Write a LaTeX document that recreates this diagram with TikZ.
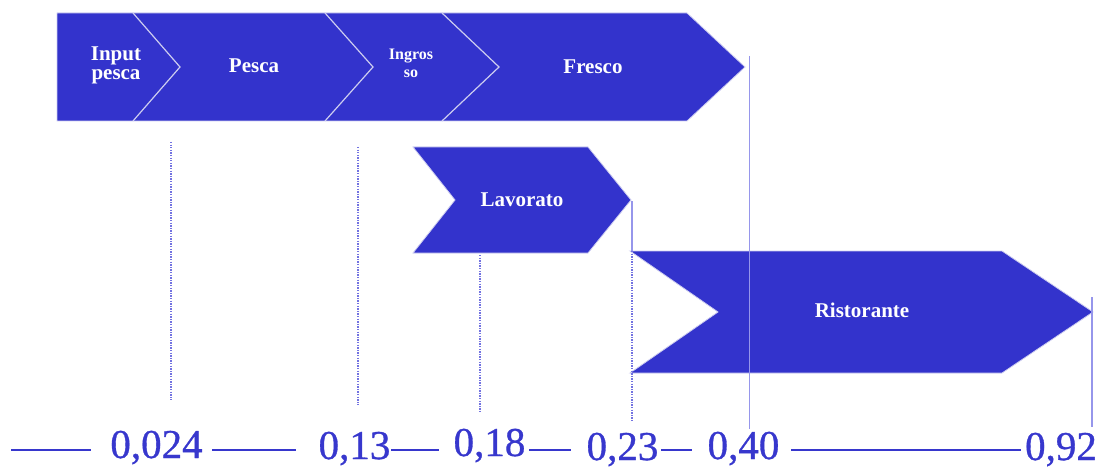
\documentclass[tikz,border=0pt]{standalone}
\usepackage{fontspec}
\setmainfont{Liberation Serif}
\newfontfamily\numfont[FakeBold=0.8]{Liberation Serif}
\definecolor{boxblue}{RGB}{51,51,204}
\definecolor{sepline}{RGB}{205,205,240}
\definecolor{numblue}{RGB}{55,55,205}
\definecolor{vline}{RGB}{150,150,235}
\definecolor{dotline}{RGB}{115,115,225}
\tikzset{
  chev/.style={fill=boxblue, draw=sepline, line width=0.8pt},
  sep/.style={draw=sepline, line width=1.2pt},
  lbl/.style={text=white, font=\bfseries\fontsize{21}{22}\selectfont, align=center, inner sep=0pt},
  slbl/.style={text=white, font=\bfseries\fontsize{16}{18}\selectfont, align=center, inner sep=0pt},
  num/.style={text=numblue, font=\numfont\fontsize{41}{41}\selectfont, anchor=base, inner sep=0pt},
  hline/.style={draw=numblue, line width=2pt},
  solidv/.style={draw=vline, line width=1.3pt},
  dotv/.style={draw=dotline, line width=1.3pt, dash pattern=on 1.3pt off 1.3pt},
}
\begin{document}
\begin{tikzpicture}[x=1pt,y=-1pt]
\useasboundingbox (0,0) rectangle (1108,468);
% top row
\path[chev] (57,13) -- (687,13) -- (745,67) -- (687,121) -- (57,121) -- cycle;
\draw[sep] (133,13) -- (180,67) -- (133,121);
\draw[sep] (325,13) -- (373,67) -- (325,121);
\draw[sep] (442,13) -- (499,67) -- (442,121);
% Lavorato
\path[chev] (413,147) -- (588,147) -- (631,200) -- (588,253) -- (413,253) -- (455,200) -- cycle;
% Ristorante
\path[chev] (630,251) -- (1002,251) -- (1093,312) -- (1002,373) -- (630,373) -- (718,312) -- cycle;
% labels
\node[lbl] (inp) at (116,65) {Input\\[-3pt]pesca};
\node[lbl] (pes) at (254,66) {Pesca};
\node[slbl] (ing) at (411,63) {Ingros\\so};
\node[lbl] (fre) at (593,67) {Fresco};
\node[lbl] (lav) at (522,200) {Lavorato};
\node[lbl] (ris) at (862,310) {Ristorante};
% vertical lines
\draw[dotv] (171,142) -- (171,400);
\draw[dotv] (358,147) -- (358,405);
\draw[dotv] (480,255) -- (480,412);
\draw[solidv] (632,201) -- (632,251);
\draw[dotv] (632,251) -- (632,421);
\draw[solidv] (749.5,56) -- (749.5,429);
\draw[solidv] (1092,297) -- (1092,427);
% numbers
\node[num] (n1) at (156.5,458) {0,024};
\node[num] (n2) at (354.5,459) {0,13};
\node[num] (n3) at (489.5,456) {0,18};
\node[num] (n4) at (622.5,460) {0,23};
\node[num] (n5) at (743.5,459) {0,40};
\node[num] (n6) at (1061,460) {0,92};
% horizontal segments
\draw[hline] (11,450) -- (91,450);
\draw[hline] (212,450) -- (296,450);
\draw[hline] (391,450) -- (439,450);
\draw[hline] (529,450) -- (571,450);
\draw[hline] (661,450) -- (692,450);
\draw[hline] (791,450) -- (1021,450);
\end{tikzpicture}
\end{document}
